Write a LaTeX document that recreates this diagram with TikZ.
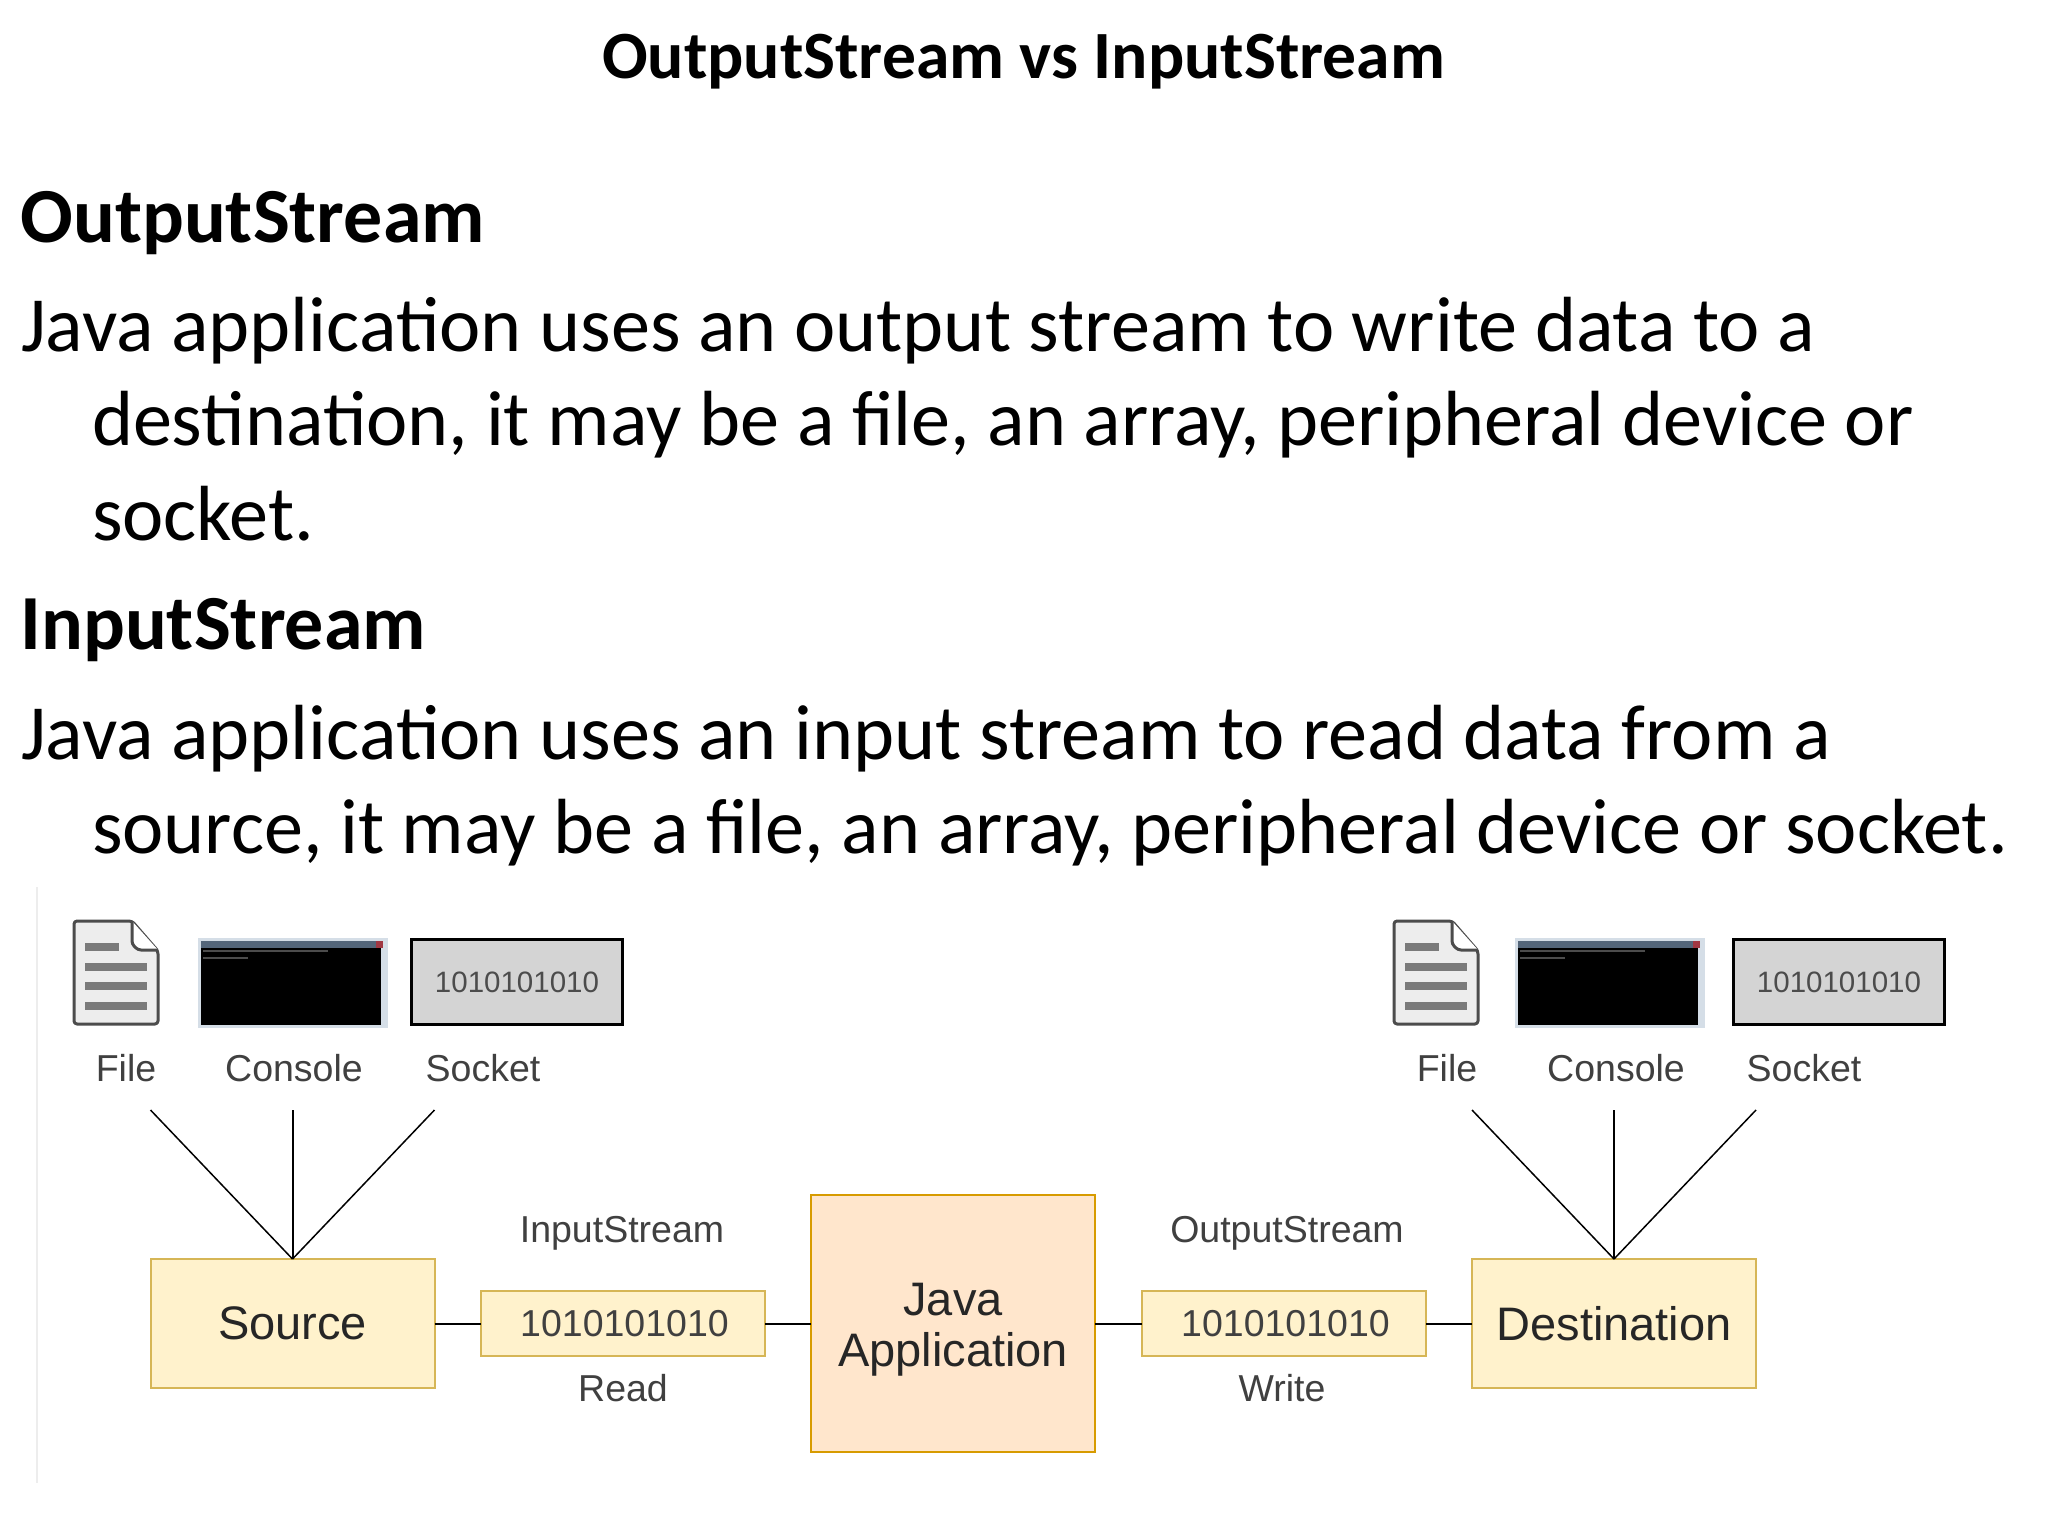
\documentclass[tikz,border=0pt]{standalone}
\usepackage{fontspec}
\setmainfont{Carlito}
\newfontfamily\dia{Liberation Sans}
\begin{document}
\begin{tikzpicture}[x=1pt,y=-1pt,
  txt/.style={anchor=base west,inner sep=0pt,outer sep=0pt,text=black},
  titlefont/.style={font=\fontsize{67.6}{67.6}\selectfont\bfseries},
  headfont/.style={font=\fontsize{78}{78}\selectfont\bfseries},
  bodyfont/.style={font=\fontsize{78.2}{78.2}\selectfont},
  lab/.style={anchor=center,inner sep=0pt,text=black!75,font=\dia\fontsize{37.5}{37.5}\selectfont},
  bigbox/.style={draw=#1,line width=2pt,inner sep=0pt,outer sep=0pt,anchor=north west,align=center,text=black!85,font=\dia\fontsize{47}{51}\selectfont},
  yellowbox/.style={bigbox=yelline,fill=yelfill},
  smallnum/.style={yellowbox,text=black!75,font=\dia\fontsize{37.5}{37.5}\selectfont},
  socketbox/.style={draw=black,line width=3pt,fill=sockfill,inner sep=0pt,anchor=north west,text=black!70,font=\dia\fontsize{29.5}{29.5}\selectfont,minimum width=211pt,minimum height=85pt},
  link/.style={draw=black,line width=2pt},
  consoleframe/.style={fill=consfill,draw=none,inner sep=0pt,anchor=north west,minimum width=190pt,minimum height=90pt},
  filebody/.style={draw=black!70,line width=3pt,fill=black!7,rounded corners=3pt,line join=round},
  filerule/.style={draw=black!52,line width=8pt},
]
\definecolor{yelfill}{HTML}{FFF2CC}
\definecolor{yelline}{HTML}{D6B656}
\definecolor{orgfill}{HTML}{FFE6CC}
\definecolor{orgline}{HTML}{D79B00}
\definecolor{sockfill}{HTML}{D4D4D4}
\definecolor{consfill}{HTML}{D5DEE7}
\definecolor{barfill}{HTML}{54667A}
\useasboundingbox (0,0) rectangle (2048,1536);
\fill[white] (0,0) rectangle (2048,1536);

% text
\node[txt,titlefont] (title) at (602,79) {OutputStream vs InputStream};
\node[txt,headfont] (h1) at (20.5,242) {OutputStream};
\node[txt,bodyfont] (b1) at (21,351) {Java application uses an output stream to write data to a};
\node[txt,bodyfont] (b2) at (92,445) {destination, it may be a file, an array, peripheral device or};
\node[txt,bodyfont] (b3) at (92,540) {socket.};
\node[txt,headfont] (h2) at (20.5,649) {InputStream};
\node[txt,bodyfont] (b4) at (21,759) {Java application uses an input stream to read data from a};
\node[txt,bodyfont] (b5) at (92,853) {source, it may be a file, an array, peripheral device or socket.};

% image edge
\coordinate (edgeA) at (37,887);
\coordinate (edgeB) at (37,1483);
\draw[black!7,line width=1.5pt] (edgeA) -- (edgeB);

% file icons
\foreach \ox/\nm in {74/fileL,1394/fileR}{
  \begin{scope}[shift={(\ox,921)}]
    \draw[filebody] (0,0) -- (58,0) -- (84,30) -- (84,103) -- (0,103) -- cycle;
    \draw[filebody,fill=white] (58,0) -- (58,23) -- (64,29) -- (84,29);
    \draw[filerule] (11,26) -- (45,26);
    \draw[filerule] (11,46) -- (73,46);
    \draw[filerule] (11,65) -- (73,65);
    \draw[filerule] (11,85) -- (73,85);
  \end{scope}
}
% consoles
\node[consoleframe] (conL) at (198,938) {};
\node[consoleframe] (conR) at (1515,938) {};
\foreach \c in {conL,conR}{
  \fill[barfill] ([xshift=3pt,yshift=-3pt]\c.north west) rectangle ([xshift=-5pt,yshift=-10pt]\c.north east);
  \fill[black] ([xshift=3pt,yshift=-10pt]\c.north west) rectangle ([xshift=-7pt,yshift=3pt]\c.south east);
  \fill[red!45!barfill] ([xshift=-12pt,yshift=-3pt]\c.north east) rectangle ([xshift=-5pt,yshift=-10pt]\c.north east);
  \fill[black!70] ([xshift=5pt,yshift=-12pt]\c.north west) rectangle ([xshift=130pt,yshift=-14pt]\c.north west);
  \fill[black!70] ([xshift=5pt,yshift=-19pt]\c.north west) rectangle ([xshift=50pt,yshift=-21pt]\c.north west);
}
% sockets
\node[socketbox] (sockL) at (410,938) {1010101010};
\node[socketbox] (sockR) at (1732,938) {1010101010};

% labels
\node[lab] (lf1) at (126,1068) {File};
\node[lab] (lc1) at (294,1068) {Console};
\node[lab] (ls1) at (483,1068) {Socket};
\node[lab] (lf2) at (1447,1068) {File};
\node[lab] (lc2) at (1616,1068) {Console};
\node[lab] (ls2) at (1804,1068) {Socket};
\node[lab] (lin) at (622,1233) {InputStream};
\node[lab] (lout) at (1287,1233) {OutputStream};
\node[lab] (lread) at (623,1388) {Read};
\node[lab] (lwrite) at (1282,1388) {Write};

% boxes
\node[yellowbox,minimum width=284pt,minimum height=129pt] (src) at (150.5,1259) {Source};
\node[smallnum,minimum width=284pt,minimum height=65pt] (rd) at (481,1291) {\hspace{3pt}1010101010};
\node[bigbox=orgline,fill=orgfill,minimum width=284pt,minimum height=257pt] (app) at (811,1195) {\raisebox{-13.5pt}[0pt][0pt]{\begin{tabular}{@{}c@{}}Java\\Application\end{tabular}}};
\node[smallnum,minimum width=284pt,minimum height=65pt] (wr) at (1142,1291) {\hspace{3pt}1010101010};
\node[yellowbox,minimum width=284pt,minimum height=129pt] (dst) at (1472,1259) {Destination};

% connectors
\draw[link] (src.east) -- (rd.west);
\draw[link] (rd.east) -- (app.west |- rd.east);
\draw[link] (app.east |- wr.west) -- (wr.west);
\draw[link] (wr.east) -- (dst.west);
\coordinate (s1) at (150.5,1110);
\coordinate (s2) at (292.5,1110);
\coordinate (s3) at (434.5,1110);
\coordinate (d1) at (1472,1110);
\coordinate (d2) at (1614,1110);
\coordinate (d3) at (1756,1110);
\draw[link,line width=1.5pt] (s1) -- (src.north);
\draw[link] (s2) -- (src.north);
\draw[link,line width=1.5pt] (s3) -- (src.north);
\draw[link,line width=1.5pt] (d1) -- (dst.north);
\draw[link] (d2) -- (dst.north);
\draw[link,line width=1.5pt] (d3) -- (dst.north);
\end{tikzpicture}
\end{document}
